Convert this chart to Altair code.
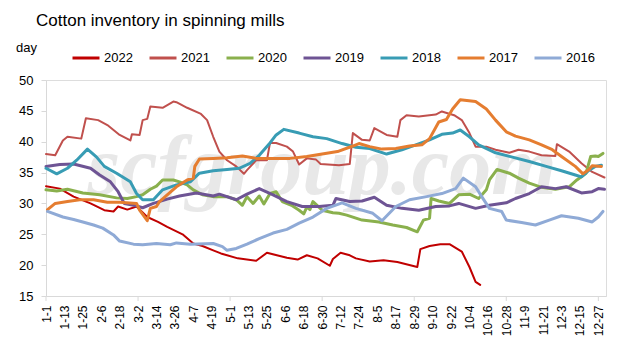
import json
import altair as alt
import pandas as pd

years = ["2022", "2021", "2020", "2019", "2018", "2017", "2016"]
colors = ["#C00000", "#C0504D", "#8AB04D", "#6E5494", "#389CB4", "#E57D30", "#8FAAD6"]
thin_years = ["2022", "2021"]

tick_labels = ["1-1", "1-13", "1-25", "2-6", "2-18", "3-2", "3-14", "3-26", "4-7", "4-19",
               "5-1", "5-13", "5-25", "6-6", "6-18", "6-30", "7-12", "7-24", "8-5", "8-17",
               "8-29", "9-10", "9-22", "10-4", "10-16", "10-28", "11-9", "11-21", "12-3",
               "12-15", "12-27"]

d2022 = [0, 9, 18, 29, 38, 44, 47, 53, 59, 66, 73, 79, 89, 96, 102, 109, 114, 125, 137, 144,
         157, 164, 170, 177, 185, 187, 192, 198, 202, 211, 220, 229, 242, 244, 250, 257, 263,
         271, 276, 280, 283]
v2022 = [32.8, 32.4, 31.1, 30.0, 28.9, 28.7, 29.5, 29.0, 29.5, 27.8, 27.0, 26.2, 25.0, 23.5,
         23.1, 22.4, 21.9, 21.1, 20.7, 22.0, 21.2, 20.9, 21.6, 21.1, 19.9, 21.0, 22.0, 21.6,
         21.1, 20.6, 20.8, 20.5, 19.7, 22.6, 23.1, 23.4, 23.4, 22.2, 19.7, 17.3, 16.8]

d2021 = [0, 6, 11, 14, 23, 26, 34, 40, 48, 55, 56, 61, 63, 66, 68, 76, 83, 85, 92, 101, 105,
         109, 113, 118, 124, 129, 131, 137, 144, 146, 150, 157, 161, 165, 170, 176, 179, 191,
         198, 200, 206, 211, 214, 222, 229, 231, 235, 243, 254, 258, 266, 271, 276, 280, 287,
         293, 302, 308, 315, 323, 332, 333, 341, 349, 356, 364]
v2021 = [38.0, 37.8, 40.2, 40.8, 40.5, 43.8, 43.5, 42.7, 41.1, 40.2, 41.2, 41.1, 43.5, 43.7,
         45.7, 45.5, 46.5, 46.4, 45.5, 44.5, 43.5, 40.8, 38.4, 37.0, 36.0, 34.8, 35.4, 37.0,
         37.0, 39.8, 39.8, 39.2, 38.4, 36.3, 37.3, 37.1, 36.4, 36.2, 36.4, 41.4, 40.3, 40.2,
         42.2, 41.1, 40.8, 43.5, 44.3, 44.1, 44.4, 44.9, 44.3, 43.5, 41.4, 39.2, 39.2, 38.7,
         38.2, 38.7, 38.4, 37.8, 37.7, 39.6, 38.4, 36.5, 35.1, 34.2]

d2020 = [0, 7, 14, 24, 35, 46, 53, 59, 63, 68, 72, 76, 83, 87, 92, 96, 102, 109, 118, 124,
         128, 131, 135, 139, 142, 146, 150, 154, 160, 165, 168, 170, 172, 174, 180, 187, 191,
         196, 206, 217, 226, 235, 242, 246, 250, 251, 256, 263, 269, 276, 282, 287, 289, 294,
         302, 308, 315, 323, 332, 341, 346, 352, 355, 358, 360, 363]
v2020 = [32.2, 32.0, 32.3, 31.7, 31.4, 30.9, 30.8, 31.1, 31.4, 32.3, 32.8, 33.8, 33.8, 33.5,
         33.0, 32.2, 31.4, 31.1, 31.1, 30.6, 29.7, 31.1, 30.0, 31.2, 29.9, 31.6, 31.9, 30.3,
         29.7, 28.9, 28.3, 29.4, 29.0, 30.3, 28.9, 28.5, 28.4, 28.1, 27.3, 27.0, 26.5, 26.1,
         25.4, 27.3, 27.6, 30.8, 30.4, 30.0, 31.4, 31.5, 30.8, 32.2, 33.8, 35.5, 34.9, 34.1,
         33.3, 32.6, 32.3, 32.7, 33.8, 34.9, 37.6, 37.7, 37.6, 38.1]

d2019 = [0, 9, 18, 29, 35, 42, 47, 51, 59, 63, 70, 79, 87, 98, 109, 113, 124, 131, 139, 148,
         157, 167, 178, 187, 189, 198, 206, 214, 222, 232, 243, 254, 263, 269, 280, 289, 300,
         306, 315, 323, 332, 339, 349, 356, 360, 364]
v2019 = [36.0, 36.3, 36.4, 35.7, 34.6, 33.5, 31.9, 30.0, 29.6, 29.3, 30.0, 30.7, 31.2, 31.7,
         31.2, 31.5, 30.6, 31.5, 32.4, 31.4, 30.3, 29.5, 29.5, 29.7, 30.8, 30.3, 30.4, 31.0,
         29.7, 29.2, 28.9, 29.5, 29.6, 30.0, 29.2, 29.7, 30.1, 30.8, 31.6, 32.7, 32.4, 32.7,
         31.7, 31.9, 32.4, 32.3]

d2018 = [0, 7, 14, 20, 27, 33, 38, 46, 55, 59, 63, 70, 76, 85, 94, 100, 109, 118, 126, 133,
         139, 146, 150, 155, 165, 174, 183, 193, 202, 211, 222, 232, 241, 250, 258, 265, 270,
         276, 282, 293, 304, 315, 326, 336, 345, 349, 354, 358, 362]
v2018 = [35.7, 34.8, 35.7, 37.0, 38.8, 37.5, 36.0, 34.9, 33.5, 31.6, 30.6, 30.6, 32.2, 33.0,
         33.5, 34.9, 35.3, 35.5, 35.7, 36.5, 37.8, 39.8, 41.1, 42.0, 41.4, 40.8, 40.5, 39.7,
         39.1, 38.9, 38.0, 38.7, 39.5, 40.3, 41.2, 41.4, 41.9, 40.8, 39.5, 38.2, 37.5, 36.8,
         36.0, 35.3, 34.6, 34.3, 35.4, 36.0, 36.2]

d2017 = [1, 6, 14, 22, 31, 40, 48, 59, 61, 66, 68, 72, 74, 79, 85, 92, 96, 97, 100, 109, 118,
         128, 137, 148, 159, 170, 180, 190, 200, 204, 211, 219, 228, 237, 245, 250, 256, 261,
         265, 270, 280, 287, 293, 300, 306, 315, 323, 330, 336, 345, 350, 354, 356, 362]
v2017 = [29.0, 30.0, 30.3, 30.6, 30.6, 30.2, 30.2, 30.0, 28.9, 27.2, 29.2, 29.5, 30.3, 31.4,
         32.7, 33.8, 34.1, 36.0, 37.2, 37.3, 37.4, 37.7, 37.3, 37.3, 37.3, 37.6, 38.0, 38.4,
         39.3, 39.7, 39.2, 38.8, 38.9, 39.3, 39.5, 40.5, 43.2, 43.6, 45.3, 46.8, 46.5, 45.3,
         43.5, 41.6, 40.9, 40.3, 39.5, 38.7, 37.6, 36.0, 34.8, 35.5, 36.1, 36.0]

d2016 = [1, 11, 18, 24, 31, 37, 44, 48, 57, 63, 72, 81, 85, 94, 109, 115, 118, 124, 131, 139,
         148, 157, 165, 174, 183, 193, 202, 213, 219, 228, 237, 248, 258, 267, 272, 280, 284,
         289, 297, 300, 310, 319, 328, 336, 347, 356, 360, 363]
v2016 = [28.7, 27.8, 27.4, 27.0, 26.5, 26.0, 24.9, 23.9, 23.4, 23.3, 23.5, 23.3, 23.6, 23.4,
         23.5, 23.0, 22.4, 22.7, 23.4, 24.3, 25.2, 25.8, 26.8, 27.8, 29.2, 30.1, 29.2, 28.4,
         27.2, 29.5, 30.6, 31.1, 31.6, 32.4, 34.1, 32.7, 31.1, 29.2, 28.7, 27.3, 26.9, 26.5,
         27.3, 28.0, 27.6, 27.0, 27.8, 28.7]

series = {
    "2022": (d2022, v2022), "2021": (d2021, v2021), "2020": (d2020, v2020),
    "2019": (d2019, v2019), "2018": (d2018, v2018), "2017": (d2017, v2017),
    "2016": (d2016, v2016),
}
rows = []
for y in years:
    ds, vs = series[y]
    for d, v in zip(ds, vs):
        rows.append({"year": y, "day": d, "value": v})
df = pd.DataFrame(rows)

label_days = [i * 12 for i in range(len(tick_labels))]
major_days = label_days[::5]
label_expr = json.dumps(tick_labels) + "[round(datum.value / 12)]"

FONT = "Liberation Sans"
GRAY = "#D9D9D9"
xscale = alt.Scale(domain=[0, 365], nice=False, zero=False)
yscale = alt.Scale(domain=[15, 50], nice=False, zero=False)
xaxis = alt.Axis(values=label_days, labelExpr=label_expr, labelAngle=270,
                 title=None, ticks=False, grid=False, domainColor=GRAY,
                 labelFont=FONT, labelFontSize=12, labelColor="#000000",
                 labelPadding=9, labelOverlap=False, labelBound=False,
                 labelFlush=False, labelAlign="right", labelBaseline="middle")

wm = alt.Chart(pd.DataFrame({"t": ["scfgroup.com"]})).mark_text(
    font="Liberation Serif", fontStyle="italic", fontWeight="bold", fontSize=84,
    color="#E8E8E8", align="center", baseline="alphabetic"
).encode(text="t:N", x=alt.value(276), y=alt.value(114))

x_enc = alt.X("day:Q", scale=xscale, axis=xaxis)
y_enc = alt.Y("value:Q", scale=yscale,
              axis=alt.Axis(values=[15, 20, 25, 30, 35, 40, 45, 50], title=None, grid=False,
                            tickSize=5, tickColor=GRAY, domainColor=GRAY, labelFont=FONT,
                            labelFontSize=13, labelColor="#000000", labelPadding=8))
c_enc = alt.Color("year:N", scale=alt.Scale(domain=years, range=colors),
                  legend=alt.Legend(title=None, orient="none", legendX=25, legendY=-37,
                                    direction="horizontal", columns=7,
                                    symbolType="stroke", symbolSize=729,
                                    symbolStrokeWidth=3, labelFont=FONT,
                                    labelFontSize=13, labelColor="#000000",
                                    labelOffset=3, columnPadding=10))

base = alt.Chart(df).encode(x=x_enc, y=y_enc, color=c_enc)
thin = base.transform_filter(
    alt.FieldOneOfPredicate(field="year", oneOf=thin_years)
).mark_line(strokeJoin="round", strokeCap="round", strokeWidth=2)
thick = base.transform_filter(
    ~alt.FieldOneOfPredicate(field="year", oneOf=thin_years)
).mark_line(strokeJoin="round", strokeCap="round", strokeWidth=3)

ticks = alt.Chart(pd.DataFrame({"day": major_days})).mark_rule(color=GRAY).encode(
    x=alt.X("day:Q", scale=xscale, axis=xaxis), y=alt.value(216), y2=alt.value(221)
)

daylab = alt.Chart(pd.DataFrame({"t": ["day"]})).mark_text(
    align="left", baseline="alphabetic", fontSize=13, font=FONT, color="#000000"
).encode(text="t:N", x=alt.value(-30), y=alt.value(-28))

chart = alt.layer(wm, thin, thick, ticks, daylab).properties(
    width=560, height=216,
    title=alt.Title("Cotton inventory in spinning mills", anchor="start", frame="group",
                    font=FONT, fontSize=17, fontWeight="normal", color="#000000",
                    dx=-10, offset=12),
    autosize=alt.AutoSizeParams(type="none"),
    padding={"left": 46, "top": 80, "right": 24, "bottom": 56},
).configure_view(stroke=None).configure(background="white")

chart.save("out.html", embed_options={"renderer": "svg", "actions": False})
